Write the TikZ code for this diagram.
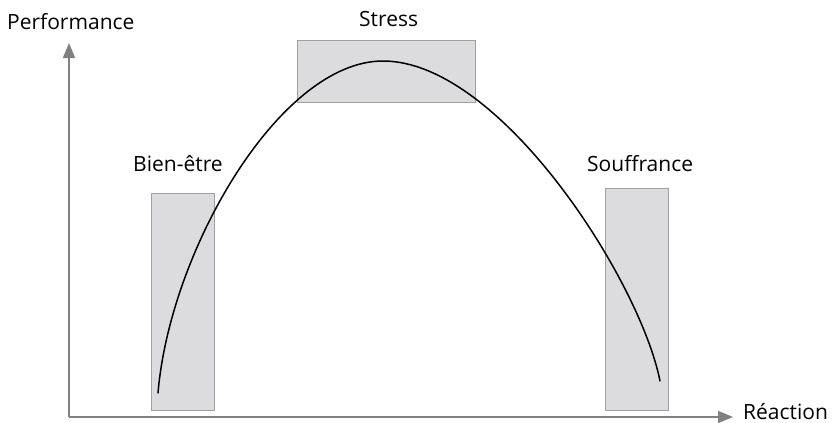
\documentclass[tikz,border=0pt]{standalone}
\usepackage{fontspec}
\setmainfont{Open Sans}
\usepackage{tikz}
\usetikzlibrary{arrows.meta,positioning}
\definecolor{axisgray}{RGB}{128,128,128}
\definecolor{zonefill}{RGB}{220,220,222}
\definecolor{zoneborder}{RGB}{160,160,162}

\begin{document}
\begin{tikzpicture}[x=1pt,y=-1pt,>={Triangle[length=15pt,width=12pt]},
      axis/.style={->,draw=axisgray,fill=axisgray,line width=1.6pt},
      zone/.style={draw=zoneborder,fill=zonefill,line width=1.4pt,inner sep=0pt,anchor=north west},
      caption/.style={font=\fontsize{21}{25}\selectfont,inner sep=0pt,anchor=base west}]
      \useasboundingbox (0,0) rectangle (833,423);

      % zones
      \node[zone,minimum width=63pt,minimum height=217pt] (bien) at (151,193) {};
      \node[zone,minimum width=178pt,minimum height=62pt] (stress) at (297,40) {};
      \node[zone,minimum width=63pt,minimum height=222pt] (souf) at (605,188) {};

      % axes
      \coordinate (o) at (69,417);
      \node[caption] (perf) at (7,29) {Performance};
      \node[caption] (reac) at (743,419) {Réaction};
      \coordinate (ytip) at (69,43);
      \coordinate (xtip) at (733,417);
      \draw[axis] (o) -- (ytip);
      \draw[axis] (o) -- (xtip);

      % labels
      \node[caption] (lbien) at (133,171) {Bien-être};
      \node[caption] (lstress) at (359,27) {Stress};
      \node[caption] (lsouf) at (587,171) {Souffrance};

      % curve
      \coordinate (start) at (158,393);
      \coordinate (peak) at (383,61);
      \coordinate (end) at (660,381);
      \draw[line width=1.5pt,line cap=round]
        (start) .. controls (170,250) and (280,61) .. (peak)
        .. controls (500,61) and (640,280) .. (end);
    \end{tikzpicture}
\end{document}
